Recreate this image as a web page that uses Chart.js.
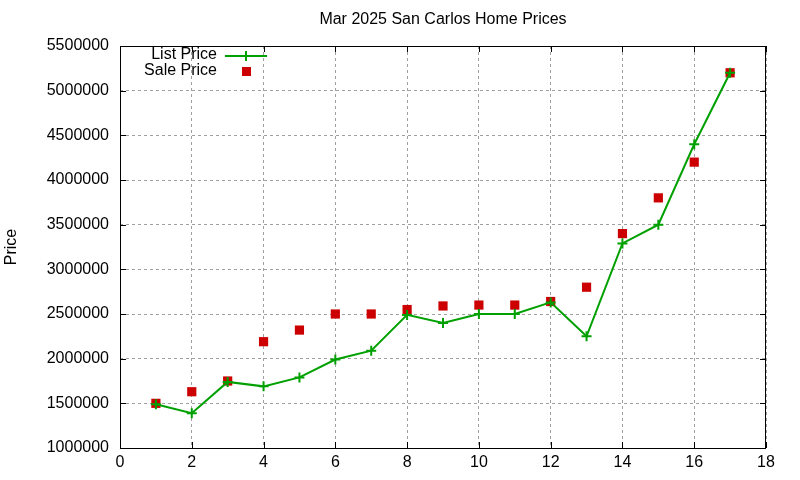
<!DOCTYPE html>
<html>
<head>
<meta charset="utf-8">
<script src="https://cdn.jsdelivr.net/npm/chart.js@4/dist/chart.umd.min.js"></script>
<style>
  html, body { margin: 0; padding: 0; background: #fff; }
  #wrap { width: 800px; height: 480px; }
</style>
</head>
<body>
<div id="wrap"><canvas id="price-chart"></canvas></div>
<script>
const homeIndex = [1, 2, 3, 4, 5, 6, 7, 8, 9, 10, 11, 12, 13, 14, 15, 16, 17];
const listPrices = [1490000, 1390000, 1740000, 1690000, 1790000, 1990000, 2090000, 2490000, 2400000, 2500000, 2500000, 2630000, 2250000, 3290000, 3500000, 4400000, 5200000];
const salePrices = [1500000, 1630000, 1750000, 2190000, 2320000, 2500000, 2500000, 2550000, 2590000, 2600000, 2600000, 2640000, 2800000, 3400000, 3800000, 4200000, 5200000];
const chartTitle = 'Mar 2025 San Carlos Home Prices';
const seriesNames = ['List Price', 'Sale Price'];

const FONT = '"Liberation Sans", Arial, sans-serif';
Chart.defaults.font.family = FONT;
Chart.defaults.font.size = 16;
Chart.defaults.color = '#000';

// gnuplot-ish frame, inward ticks, title and legend
const gnuplotBits = {
    id: 'gnuplotBits',
    afterDraw(chart) {
        const ctx = chart.ctx;
        const a = chart.chartArea;
        const xs = chart.scales.x, ys = chart.scales.y;
        ctx.save();
        ctx.strokeStyle = '#000';
        ctx.lineWidth = 1;
        ctx.strokeRect(a.left + 0.5, a.top + 0.5, a.right - a.left - 1, a.bottom - a.top);
        ctx.beginPath();
        xs.ticks.forEach(t => {
            const px = Math.round(xs.getPixelForValue(t.value)) + 0.5;
            ctx.moveTo(px, a.bottom); ctx.lineTo(px, a.bottom - 6);
            ctx.moveTo(px, a.top); ctx.lineTo(px, a.top + 6);
        });
        ys.ticks.forEach(t => {
            const py = Math.round(ys.getPixelForValue(t.value)) + 0.5;
            ctx.moveTo(a.left, py); ctx.lineTo(a.left + 6, py);
            ctx.moveTo(a.right, py); ctx.lineTo(a.right - 6, py);
        });
        ctx.stroke();

        ctx.font = '16px ' + FONT;
        ctx.fillStyle = '#000';
        ctx.textAlign = 'center';
        ctx.textBaseline = 'middle';
        ctx.fillText(chartTitle, (a.left + a.right) / 2, 20);

        // legend
        const ds = chart.data.datasets;
        ctx.textAlign = 'right';
        ctx.fillText(seriesNames[0], a.left + 97, 55);
        ctx.fillText(seriesNames[1], a.left + 97, 71);
        ctx.strokeStyle = ds[0].borderColor;
        ctx.lineWidth = 2;
        ctx.beginPath();
        ctx.moveTo(a.left + 105, 56); ctx.lineTo(a.left + 147, 56);
        ctx.moveTo(a.left + 126, 51); ctx.lineTo(a.left + 126, 61);
        ctx.stroke();
        ctx.fillStyle = ds[1].backgroundColor;
        ctx.fillRect(a.left + 122, 67, 9, 9);
        ctx.restore();
    }
};

const ctx = document.getElementById('price-chart').getContext('2d');
new Chart(ctx, {
    type: 'scatter',
    data: {
        datasets: [{
            label: seriesNames[0],
            data: homeIndex.map((x, i) => ({ x: x, y: listPrices[i] })),
            showLine: true,
            borderColor: '#00a000',
            backgroundColor: '#00a000',
            borderWidth: 2,
            pointStyle: 'cross',
            pointRadius: 5,
            pointBorderWidth: 2,
            tension: 0
        }, {
            label: seriesNames[1],
            data: homeIndex.map((x, i) => ({ x: x, y: salePrices[i] })),
            showLine: false,
            borderColor: '#cc0000',
            backgroundColor: '#cc0000',
            pointStyle: 'rect',
            pointRadius: 6.5,
            pointBorderWidth: 0
        }]
    },
    options: {
        responsive: true,
        maintainAspectRatio: false,
        animation: false,
        layout: { padding: { top: 46, right: 34, left: 0, bottom: 0 } },
        plugins: { legend: { display: false }, title: { display: false }, tooltip: { enabled: false } },
        scales: {
            x: {
                type: 'linear',
                min: 0, max: 18,
                afterFit: s => { s.height = 32; },
                ticks: { stepSize: 2, padding: 5, maxRotation: 0 },
                grid: { color: '#a0a0a0', drawTicks: false },
                border: { display: false, dash: [3, 3] }
            },
            y: {
                min: 1000000, max: 5500000,
                afterFit: s => { s.width = 120; },
                ticks: { stepSize: 500000, padding: 11, callback: v => String(v) },
                grid: { color: '#a0a0a0', drawTicks: false },
                border: { display: false, dash: [3, 3] },
                title: { display: true, text: 'Price', padding: { top: 2, bottom: 0 } }
            }
        }
    },
    plugins: [gnuplotBits]
});
</script>
</body>
</html>
